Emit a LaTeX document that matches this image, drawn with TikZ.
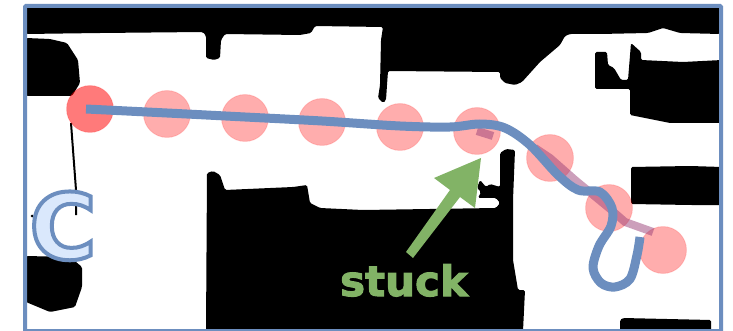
\documentclass[tikz,border=0pt]{standalone}
\usepackage{fontspec}
\setmainfont{DejaVu Sans}[BoldFont={DejaVu Sans Bold}]
\definecolor{frameblue}{HTML}{6C8EBF}
\definecolor{lightblue}{HTML}{DAE8FC}
\definecolor{stuckgreen}{HTML}{82B366}
\tikzset{
  wall/.style={fill=black,draw=none,rounded corners=1.5pt},
  wp/.style={circle,minimum size=47pt,inner sep=0pt,fill=red,fill opacity=.32,draw=red,draw opacity=.12,line width=1pt},
  wpstart/.style={wp,fill opacity=.52},
  trail/.style={draw=frameblue,line width=9pt,line cap=butt,line join=round},
  ghost/.style={draw=purple!55!frameblue,line width=8pt,draw opacity=.5,line cap=butt}
}
\begin{document}
\begin{tikzpicture}[x=1pt,y=-1pt]
\useasboundingbox (0,0) rectangle (733,331);
\fill[white] (0,0) rectangle (733,331);
% map
\fill[wall] (26,7) -- (722,7) -- (720,34) -- (680,33) -- (663,28) -- (648,33) -- (600,34) -- (570,34) -- (565,36) -- (560,45) -- (540,62) -- (522,82) -- (515,85) -- (505,83) -- (500,78) -- (500,72) -- (388,71) -- (387,85) -- (386,100) -- (383,103) -- (378,98) -- (380,85) -- (381,40) -- (383,27) -- (315,26) -- (311,33) -- (300,35) -- (225,34) -- (221,40) -- (220,58) -- (214,60) -- (206,58) -- (206,36) -- (203,32) -- (100,33) -- (26,34) -- cycle;
\fill[wall] (26,38) -- (50,39) -- (67,43) -- (78,60) -- (80,83) -- (72,96) -- (26,96) -- cycle;
\fill[wall] (26,256) -- (70,257) -- (82,267) -- (82,287) -- (75,307) -- (50,312) -- (26,302) -- cycle;
\fill[wall] (206,331) -- (207,173) -- (213,171) -- (220,175) -- (225,190) -- (293,187) -- (307,185) -- (310,203) -- (320,208) -- (363,210) -- (496,208) -- (500,203) -- (496,198) -- (478,198) -- (481,192) -- (477,188) -- (480,180) -- (486,187) -- (490,184) -- (500,187) -- (500,153) -- (506,149) -- (515,150) -- (513,200) -- (513,260) -- (518,290) -- (525,290) -- (523,331) -- cycle;
\fill[wall] (595,52) -- (607,52) -- (608,65) -- (614,68) -- (621,80) -- (628,80) -- (631,43) -- (641,52) -- (641,60) -- (683,62) -- (722,60) -- (722,123) -- (670,123) -- (630,115) -- (630,89) -- (595,89) -- cycle;
\fill[wall] (631,167) -- (690,166) -- (722,167) -- (722,205) -- (690,205) -- (631,204) -- cycle;
\fill[wall] (620,331) -- (620,320) -- (623,318) -- (711,320) -- (711,331) -- cycle;
\draw[line width=2pt] (71,123) -- (76,190) -- (76,215);
\fill (32,216) circle (1.5pt);
% waypoints
\node[wpstart] (w0) at (90,109) {};
\node[wp] (w1) at (167,114) {};
\node[wp] (w2) at (245,118) {};
\node[wp] (w3) at (322,122) {};
\node[wp] (w4) at (400,127) {};
\node[wp] (w5) at (477,131) {};
\node[wp] (w6) at (550,158) {};
\node[wp] (w7) at (609,208) {};
\node[wp] (w8) at (663,250) {};
% planned path
\draw[ghost] (w5.center) -- (493,136);
\draw[ghost] (535,148) -- (w6.center) -- (575,180) -- (w7.center) -- (625,222) -- (653,232);
% driven path
\draw[trail] plot[smooth,tension=.55] coordinates {(86,109) (167,113) (245,117) (322,121) (400,126) (450,127) (480,124) (505,128) (530,145) (558,175) (578,190) (600,192) (612,208) (611,226) (599,246) (593,268) (601,283) (615,287) (630,279) (637,255) (640,237)};
% label C
\node[font=\bfseries\fontsize{91}{91}\selectfont,text=lightblue,anchor=base,inner sep=0pt] (c) at (63,259)
  {\special{pdf:code q 2 Tr 4 w 0.424 0.557 0.749 RG 0.855 0.91 0.988 rg}C\special{pdf:code Q}};
% stuck arrow
\fill[stuckgreen] (481,158) -- (434,178) -- (450,190) -- (406,252) -- (413,258) -- (460,197) -- (475,208) -- cycle;
\node[font=\bfseries\fontsize{42}{42}\selectfont,text=stuckgreen,anchor=base,inner sep=0pt] (s) at (404,296)
  {\special{pdf:code q 2 Tr 1 w 0.51 0.702 0.4 RG 0.51 0.702 0.4 rg}stuck\special{pdf:code Q}};
% frame
\draw[frameblue,line width=4pt,rounded corners=1pt] (25,6) rectangle (721,331);
\end{tikzpicture}
\end{document}
